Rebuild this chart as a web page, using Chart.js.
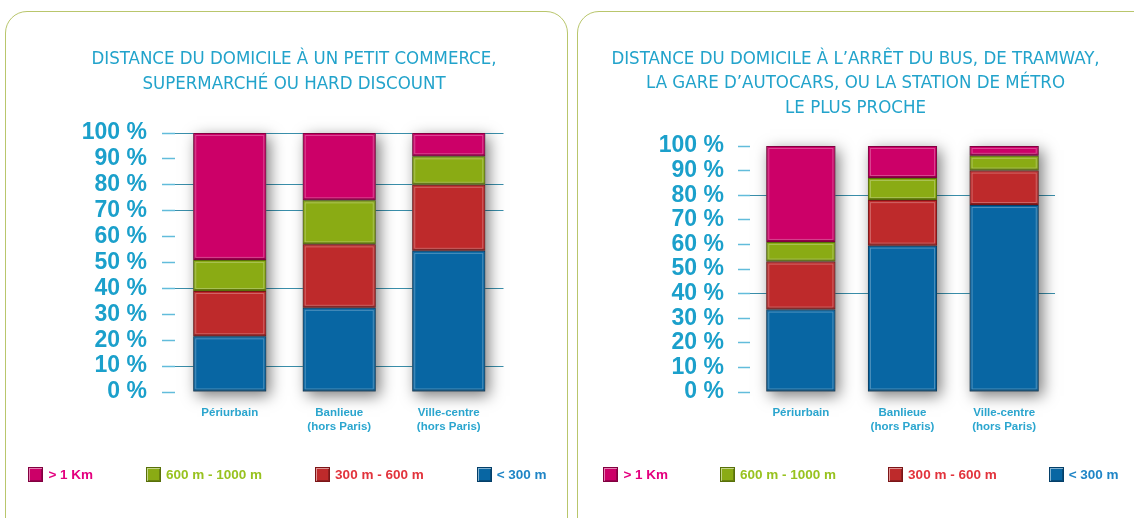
<!DOCTYPE html>
<html>
<head>
<meta charset="utf-8">
<script src="https://cdn.jsdelivr.net/npm/chart.js@4"></script>
<style>
html, body { margin: 0; padding: 0; background: #fff; overflow: hidden; width: 1134px; height: 518px; }
.panel { position: absolute; top: 11px; border: 1.5px solid #b9c66c; border-radius: 22px; box-sizing: border-box; }
#p1 { left: 5px; width: 563px; height: 530px; }
#p2 { left: 577px; width: 590px; height: 530px; }
canvas { position: absolute; top: 0; }
#c1 { left: 0; }
#c2 { left: 570px; }
.legend { position: absolute; top: 466px; height: 16px; display: flex; justify-content: center; align-items: center; gap: 53px;
          font: bold 13.5px 'Liberation Sans', Arial, sans-serif; white-space: nowrap; }
#l1 { left: 0; width: 575px; }
#l2 { left: 570px; width: 582px; gap: 52px; }
.legend .item { display: flex; align-items: center; }
.legend .box { width: 15px; height: 15px; box-sizing: border-box; margin-right: 5px; border: 1px solid;
               box-shadow: inset 1px 1px 0 rgba(255,255,255,0.5), inset -1px -1px 0 rgba(0,0,0,0.25); }
</style>
</head>
<body>
<div class="panel" id="p1"></div>
<div class="panel" id="p2"></div>
<canvas id="c1" width="570" height="518"></canvas>
<canvas id="c2" width="564" height="518"></canvas>
<div class="legend" id="l1"></div>
<div class="legend" id="l2"></div>
<script>
// categories and series (stack order bottom -> top)
const categories = [['Périurbain'], ['Banlieue', '(hors Paris)'], ['Ville-centre', '(hors Paris)']];
const seriesLabels = ['< 300 m', '300 m - 600 m', '600 m - 1000 m', '> 1 Km'];

// distance to a shop / supermarket (%)
const shopUnder300 = [21.5, 32.5, 54.5];
const shop300to600 = [17.5, 24.5, 25.5];
const shop600to1000 = [12, 17, 11];
const shopOver1km = [49, 26, 9];

// distance to bus / tram / coach / metro stop (%)
const transitUnder300 = [33.5, 59.5, 76];
const transit300to600 = [19.5, 18.5, 14];
const transit600to1000 = [8, 9, 6];
const transitOver1km = [39, 13, 4];

const yTickValues = [0, 10, 20, 30, 40, 50, 60, 70, 80, 90, 100];

const barColors = ['#0866a3', '#be2a2b', '#8aab14', '#cc0068'];
const edgeColors = ['#043f69', '#7c1517', '#587009', '#82003f'];
const textColors = ['#1f85c6', '#e2333c', '#98c21f', '#e4007f'];

const NARROW = "'Liberation Sans Narrow', 'DejaVu Sans Condensed', 'Liberation Sans', sans-serif";
const SANS = "'Liberation Sans', Arial, sans-serif";

// drop shadow behind each column + light inner edge on every block
const barStyle = {
    id: 'barStyle',
    beforeDatasetsDraw(chart) {
        const ctx = chart.ctx;
        const n = chart.data.datasets.length;
        const first = chart.getDatasetMeta(0).data;
        const last = chart.getDatasetMeta(n - 1).data;
        ctx.save();
        ctx.shadowColor = 'rgba(0,0,0,0.5)';
        ctx.shadowBlur = 14;
        ctx.shadowOffsetX = 4;
        ctx.shadowOffsetY = 4;
        ctx.fillStyle = '#777';
        first.forEach((bar, i) => {
            const top = last[i].y;
            ctx.fillRect(bar.x - bar.width / 2, top, bar.width, bar.base - top);
        });
        ctx.restore();
    },
    afterDatasetsDraw(chart) {
        const ctx = chart.ctx;
        ctx.save();
        ctx.lineWidth = 1;
        chart.data.datasets.forEach((ds, d) => {
            chart.getDatasetMeta(d).data.forEach(bar => {
                const l = bar.x - bar.width / 2;
                const h = bar.base - bar.y;
                ctx.strokeStyle = 'rgba(255,255,255,0.28)';
                ctx.strokeRect(l + 2.5, bar.y + 2.5, bar.width - 5, h - 5);
                ctx.strokeStyle = 'rgba(0,0,0,0.3)';
                ctx.beginPath();
                ctx.moveTo(l + 1, bar.base - 1.5);
                ctx.lineTo(l + bar.width - 1, bar.base - 1.5);
                ctx.stroke();
            });
        });
        ctx.restore();
    }
};

function buildLegend(chart, id) {
    const el = document.getElementById(id);
    const ds = chart.data.datasets;
    for (let i = ds.length - 1; i >= 0; i--) {
        const item = document.createElement('div');
        item.className = 'item';
        const box = document.createElement('span');
        box.className = 'box';
        box.style.background = ds[i].backgroundColor;
        box.style.borderColor = ds[i].borderColor;
        const txt = document.createElement('span');
        txt.textContent = ds[i].label;
        txt.style.color = textColors[i];
        item.appendChild(box);
        item.appendChild(txt);
        el.appendChild(item);
    }
}

function makeChart(id, titleLines, series, gridValues, g) {
    const datasets = series.map((values, i) => ({
        label: seriesLabels[i],
        data: values,
        backgroundColor: barColors[i],
        borderColor: edgeColors[i],
        borderWidth: 1,
        borderSkipped: false,
        barPercentage: g.barPct,
        categoryPercentage: 1
    }));
    return new Chart(document.getElementById(id), {
        type: 'bar',
        data: { labels: categories, datasets },
        plugins: [barStyle],
        options: {
            responsive: false,
            animation: false,
            layout: { padding: { left: g.padLeft, right: 0, top: 0, bottom: 81 } },
            plugins: {
                tooltip: { enabled: false },
                legend: { display: false },
                title: {
                    display: true,
                    text: titleLines,
                    color: '#22a3cb',
                    font: { family: NARROW, size: 18.5, weight: 'normal', lineHeight: g.titleLine / 18.5 },
                    padding: { top: g.titleTop, bottom: g.titleBottom }
                }
            },
            scales: {
                x: {
                    stacked: true,
                    grid: { display: false },
                    border: { display: false },
                    ticks: { color: '#2ba6cf', padding: 6, font: { family: SANS, size: 11.5, weight: 'bold' } },
                    afterFit: s => { s.height = 45; }
                },
                y: {
                    stacked: true,
                    min: 0,
                    max: 100,
                    afterBuildTicks: s => { s.ticks = yTickValues.map(v => ({ value: v })); },
                    afterFit: s => { s.width = g.yWidth; },
                    border: { display: false },
                    grid: {
                        color: c => gridValues.includes(c.tick.value) ? '#3a8fab' : 'rgba(0,0,0,0)',
                        tickColor: '#62bcdb',
                        tickLength: g.tickLen,
                        tickWidth: 1.5,
                        lineWidth: 1
                    },
                    ticks: {
                        autoSkip: false,
                        color: '#1ba0cb',
                        padding: g.tickPad,
                        font: { family: SANS, size: 23, weight: 'bold' },
                        callback: v => v + ' %'
                    }
                },
                // empty right-hand axis, only reserves the space right of the bars
                yRight: {
                    position: 'right',
                    min: 0,
                    max: 100,
                    grid: { display: false },
                    border: { display: false },
                    ticks: { display: false },
                    afterFit: s => { s.width = g.rightWidth; }
                }
            }
        }
    });
}

const shopChart = makeChart('c1',
    ['DISTANCE DU DOMICILE À UN PETIT COMMERCE,', 'SUPERMARCHÉ OU HARD DISCOUNT'],
    [shopUnder300, shop300to600, shop600to1000, shopOver1km],
    [10, 40, 70, 80, 100],
    { padLeft: 18, yWidth: 157, rightWidth: 66.5, tickLen: 13, tickPad: 15,
      barPct: 0.667, titleLine: 25, titleTop: 46.5, titleBottom: 36.5 });

const transitChart = makeChart('c2',
    ['DISTANCE DU DOMICILE À L’ARRÊT DU BUS, DE TRAMWAY,', 'LA GARE D’AUTOCARS, OU LA STATION DE MÉTRO', 'LE PLUS PROCHE'],
    [transitUnder300, transit300to600, transit600to1000, transitOver1km],
    [40, 80],
    { padLeft: 7, yWidth: 173, rightWidth: 79, tickLen: 12, tickPad: 14,
      barPct: 0.68, titleLine: 24.5, titleTop: 46.75, titleBottom: 25.75 });

buildLegend(shopChart, 'l1');
buildLegend(transitChart, 'l2');
</script>
</body>
</html>
